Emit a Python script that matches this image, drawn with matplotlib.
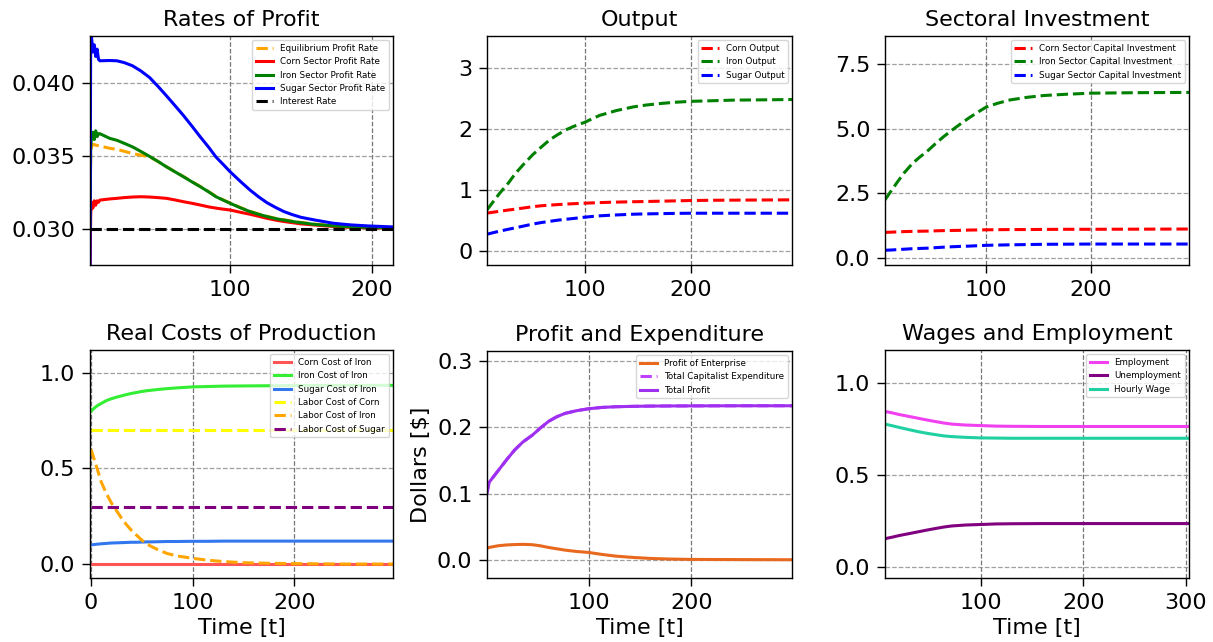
import matplotlib
matplotlib.use("Agg")
import matplotlib.pyplot as plt

# ---- Rates of Profit ----
t_rate = [1, 1.5, 2, 3, 4, 5, 6, 7, 8, 15, 20, 25, 31, 37, 43, 49, 55, 61, 67, 73, 79, 85, 90, 95,
          100, 107, 114, 120, 126, 132, 138, 144, 150, 160, 173, 185, 197, 215]
sugar_rate = [0.0270, 0.0440, 0.0432, 0.0421, 0.0426, 0.0418, 0.0423, 0.0416, 0.0415, 0.04152, 0.0415, 0.04138,
              0.04116, 0.0408, 0.04036, 0.03975, 0.0391, 0.03843, 0.03775, 0.03702, 0.03627, 0.03555, 0.0349,
              0.0344, 0.03389, 0.03325, 0.03264, 0.03218, 0.03177, 0.03145, 0.03116, 0.03095, 0.03077, 0.03058,
              0.03036, 0.03025, 0.03018, 0.03011]
corn_rate = [0.0270, 0.0310, 0.0318, 0.0314, 0.0319, 0.0316, 0.0319, 0.0318, 0.03195, 0.03203, 0.03207, 0.03212,
             0.03216, 0.03218, 0.03216, 0.03212, 0.03207, 0.03196, 0.03184, 0.03173, 0.03161, 0.03148, 0.0314,
             0.03133, 0.03127, 0.03112, 0.03098, 0.03084, 0.0307, 0.03058, 0.03048, 0.0304, 0.03032, 0.03024,
             0.03014, 0.03008, 0.03005, 0.03002]
iron_rate = [0.0300, 0.0355, 0.0362, 0.0366, 0.0361, 0.0367, 0.0363, 0.0365, 0.0365, 0.03618, 0.03605, 0.03585,
             0.0356, 0.03528, 0.03495, 0.0346, 0.03423, 0.03389, 0.03355, 0.0332, 0.03286, 0.0325, 0.03218,
             0.03195, 0.03173, 0.03143, 0.03116, 0.03098, 0.03082, 0.03068, 0.03058, 0.03048, 0.0304, 0.03028,
             0.03018, 0.03012, 0.03008, 0.03005]
eq_rate = [0.0310, 0.0350, 0.0356, 0.03577, 0.03575, 0.03572, 0.0357, 0.03568, 0.03566, 0.0355, 0.03543, 0.0353,
           0.03514, 0.03503, 0.03492, 0.0346, 0.03424, 0.0339, 0.03357, 0.03322, 0.03288, 0.03252, 0.0322,
           0.03197, 0.03175, 0.03145, 0.03118, 0.031, 0.03084, 0.0307, 0.0306, 0.0305, 0.03042, 0.0303,
           0.0302, 0.03014, 0.0301, 0.03006]
interest_rate = [0.030] * len(t_rate)

# ---- Output ----
t_out = [8, 14, 20, 28, 35, 43, 51, 59, 67, 75, 83, 91, 100, 107, 114, 122, 130, 138, 146, 158, 171, 185,
         200, 220, 240, 270, 295]
corn_out = [0.62, 0.635, 0.65, 0.67, 0.685, 0.705, 0.725, 0.74, 0.75, 0.76, 0.768, 0.775, 0.782, 0.787, 0.792,
            0.796, 0.80, 0.803, 0.806, 0.81, 0.815, 0.82, 0.826, 0.83, 0.832, 0.835, 0.837]
iron_out = [0.673, 0.81, 0.947, 1.11, 1.275, 1.43, 1.576, 1.70, 1.82, 1.91, 1.99, 2.05, 2.107, 2.165, 2.22,
            2.26, 2.30, 2.33, 2.36, 2.39, 2.414, 2.435, 2.45, 2.46, 2.47, 2.475, 2.48]
sugar_out = [0.274, 0.30, 0.325, 0.355, 0.38, 0.41, 0.44, 0.465, 0.485, 0.505, 0.52, 0.535, 0.553, 0.565,
             0.575, 0.583, 0.59, 0.596, 0.602, 0.607, 0.611, 0.615, 0.618, 0.618, 0.618, 0.618, 0.618]

# ---- Sectoral Investment ----
t_inv = [4, 10, 16, 22, 30, 37, 44, 52, 60, 68, 76, 84, 92, 100, 111, 123, 139, 155, 177, 200, 245, 293]
corn_inv = [0.99, 1.0, 1.01, 1.02, 1.03, 1.035, 1.04, 1.05, 1.06, 1.065, 1.07, 1.08, 1.085, 1.09, 1.095, 1.10,
            1.10, 1.105, 1.11, 1.11, 1.115, 1.12]
iron_inv = [2.25, 2.6, 2.95, 3.28, 3.65, 3.9, 4.12, 4.42, 4.70, 4.95, 5.19, 5.42, 5.63, 5.83, 5.98, 6.11,
            6.21, 6.28, 6.33, 6.37, 6.39, 6.40]
sugar_inv = [0.30, 0.31, 0.325, 0.34, 0.36, 0.37, 0.38, 0.40, 0.42, 0.435, 0.45, 0.46, 0.475, 0.49, 0.50,
             0.51, 0.52, 0.53, 0.535, 0.54, 0.54, 0.54]

# ---- Real Costs of Production ----
t_cost = [0, 3, 6, 10, 15, 20, 25, 30, 35, 40, 45, 50, 55, 60, 67, 75, 85, 100, 115, 130, 150, 175, 200, 250, 297]
corn_cost_iron = [0.0] * len(t_cost)
iron_cost_iron = [0.80, 0.815, 0.828, 0.84, 0.855, 0.865, 0.873, 0.88, 0.887, 0.893, 0.898, 0.903, 0.907,
                  0.91, 0.914, 0.918, 0.922, 0.927, 0.929, 0.931, 0.932, 0.933, 0.934, 0.935, 0.935]
sugar_cost_iron = [0.100, 0.102, 0.104, 0.106, 0.108, 0.110, 0.111, 0.112, 0.113, 0.114, 0.114, 0.115, 0.116,
                   0.116, 0.117, 0.118, 0.118, 0.119, 0.119, 0.12, 0.12, 0.12, 0.12, 0.12, 0.12]
labor_corn = [0.70] * len(t_cost)
labor_iron = [0.60, 0.55, 0.50, 0.43, 0.37, 0.32, 0.28, 0.24, 0.205, 0.175, 0.15, 0.125, 0.105, 0.09, 0.072,
              0.055, 0.042, 0.03, 0.02, 0.013, 0.007, 0.004, 0.002, 0.0, 0.0]
labor_sugar = [0.30] * len(t_cost)

# ---- Profit and Expenditure ----
t_prof = [1, 3, 8, 12, 20, 28, 36, 45, 53, 61, 69, 77, 88, 100, 113, 126, 143, 160, 180, 200, 250, 298]
enterprise = [0.0176, 0.019, 0.0205, 0.0216, 0.0228, 0.0234, 0.0237, 0.0232, 0.0215, 0.019, 0.017, 0.015,
              0.013, 0.0115, 0.0085, 0.006, 0.004, 0.0025, 0.0015, 0.001, 0.0007, 0.0005]
cap_expend = [0.101, 0.117, 0.127, 0.135, 0.151, 0.166, 0.178, 0.188, 0.199, 0.209, 0.216, 0.221, 0.225,
              0.228, 0.230, 0.231, 0.2316, 0.232, 0.2322, 0.2323, 0.2325, 0.2325]
total_profit = [0.101, 0.117, 0.127, 0.135, 0.151, 0.166, 0.178, 0.188, 0.199, 0.209, 0.216, 0.221, 0.225,
                0.228, 0.230, 0.231, 0.2316, 0.232, 0.2322, 0.2323, 0.2325, 0.2325]

# ---- Wages and Employment ----
t_wage = [7, 14, 20, 31, 40, 50, 57, 64, 72, 85, 100, 115, 130, 160, 200, 303]
employment = [0.846, 0.838, 0.83, 0.818, 0.808, 0.797, 0.79, 0.783, 0.777, 0.772, 0.769, 0.766, 0.765,
              0.764, 0.764, 0.764]
unemployment = [0.154, 0.162, 0.17, 0.182, 0.192, 0.203, 0.21, 0.217, 0.223, 0.228, 0.231, 0.234, 0.235,
                0.236, 0.236, 0.236]
hourly_wage = [0.777, 0.768, 0.76, 0.746, 0.735, 0.725, 0.719, 0.713, 0.709, 0.705, 0.702, 0.701, 0.70,
               0.70, 0.70, 0.70]

FS = 16
LW = 2.2
LEG = 6.3
W, H = 1213, 642

fig = plt.figure(figsize=(12.13, 6.42), dpi=100)


def make_ax(left, top, width, height):
    return fig.add_axes([left / W, 1 - (top + height) / H, width / W, height / H])


def style(ax, title):
    ax.set_title(title, fontsize=FS, pad=7)
    ax.tick_params(labelsize=FS, length=5.5, width=1.0, pad=5)
    for sp in ax.spines.values():
        sp.set_linewidth(1.0)
    ax.set_axisbelow(True)
    ax.grid(axis="x", color="#555555", linestyle="--", linewidth=0.9, alpha=0.8)
    ax.grid(axis="y", color="#888888", linestyle="--", linewidth=0.9, alpha=0.8)
    ax.legend(fontsize=LEG, loc="upper right")


# Rates of Profit
ax = make_ax(90, 36, 303, 229)
ax.plot(t_rate, eq_rate, color="orange", linestyle="--", lw=LW, label="Equilibrium Profit Rate")
ax.plot(t_rate, corn_rate, color="red", lw=LW, label="Corn Sector Profit Rate")
ax.plot(t_rate, iron_rate, color="green", lw=LW, label="Iron Sector Profit Rate")
ax.plot(t_rate, sugar_rate, color="blue", lw=LW, label="Sugar Sector Profit Rate")
ax.plot(t_rate, interest_rate, color="black", linestyle="--", lw=LW, label="Interest Rate")
ax.set_xlim(1, 215)
ax.set_ylim(0.0275, 0.0432)
ax.set_yticks([0.030, 0.035, 0.040])
ax.set_xticks([100, 200])
style(ax, "Rates of Profit")

# Output
ax = make_ax(487, 36, 305, 229)
ax.plot(t_out, corn_out, color="red", linestyle="--", lw=LW, label="Corn Output")
ax.plot(t_out, iron_out, color="green", linestyle="--", lw=LW, label="Iron Output")
ax.plot(t_out, sugar_out, color="blue", linestyle="--", lw=LW, label="Sugar Output")
ax.set_xlim(8, 295)
ax.set_ylim(-0.23, 3.52)
ax.set_yticks([0, 1, 2, 3])
ax.set_xticks([100, 200])
style(ax, "Output")

# Sectoral Investment
ax = make_ax(885, 36, 304, 229)
ax.plot(t_inv, corn_inv, color="red", linestyle="--", lw=LW, label="Corn Sector Capital Investment")
ax.plot(t_inv, iron_inv, color="green", linestyle="--", lw=LW, label="Iron Sector Capital Investment")
ax.plot(t_inv, sugar_inv, color="blue", linestyle="--", lw=LW, label="Sugar Sector Capital Investment")
ax.set_xlim(4, 293)
ax.set_ylim(-0.27, 8.58)
ax.set_yticks([0.0, 2.5, 5.0, 7.5])
ax.set_xticks([100, 200])
style(ax, "Sectoral Investment")

# Real Costs of Production
ax = make_ax(90, 350, 303, 228)
ax.plot(t_cost, corn_cost_iron, color="#ff5555", lw=LW, label="Corn Cost of Iron")
ax.plot(t_cost, iron_cost_iron, color="#33ee33", lw=LW, label="Iron Cost of Iron")
ax.plot(t_cost, sugar_cost_iron, color="#3377ee", lw=LW, label="Sugar Cost of Iron")
ax.plot(t_cost, labor_corn, color="yellow", linestyle="--", lw=LW, label="Labor Cost of Corn")
ax.plot(t_cost, labor_iron, color="orange", linestyle="--", lw=LW, label="Labor Cost of Iron")
ax.plot(t_cost, labor_sugar, color="purple", linestyle="--", lw=LW, label="Labor Cost of Sugar")
ax.set_xlim(-1, 297)
ax.set_ylim(-0.073, 1.12)
ax.set_yticks([0.0, 0.5, 1.0])
ax.set_xticks([0, 100, 200])
style(ax, "Real Costs of Production")
ax.set_xlabel("Time [t]", fontsize=FS, labelpad=4)

# Profit and Expenditure
ax = make_ax(487, 351, 305, 227)
ax.plot(t_prof, enterprise, color="#e8691e", lw=LW, label="Profit of Enterprise")
ax.plot(t_prof, cap_expend, color="#c040ff", linestyle="--", lw=LW, label="Total Capitalist Expenditure")
ax.plot(t_prof, total_profit, color="#a030f0", lw=LW, label="Total Profit")
ax.set_xlim(1, 298)
ax.set_ylim(-0.027, 0.315)
ax.set_yticks([0.0, 0.1, 0.2, 0.3])
ax.set_xticks([100, 200])
style(ax, "Profit and Expenditure")
ax.set_xlabel("Time [t]", fontsize=FS, labelpad=4)
ax.set_ylabel("Dollars [$]", fontsize=FS, labelpad=4)

# Wages and Employment
ax = make_ax(885, 350, 304, 228)
ax.plot(t_wage, employment, color="#f040f0", lw=LW, label="Employment")
ax.plot(t_wage, unemployment, color="purple", lw=LW, label="Unemployment")
ax.plot(t_wage, hourly_wage, color="#20d0a0", lw=LW, label="Hourly Wage")
ax.set_xlim(7, 303)
ax.set_ylim(-0.06, 1.18)
ax.set_yticks([0.0, 0.5, 1.0])
ax.set_xticks([100, 200, 300])
style(ax, "Wages and Employment")
ax.set_xlabel("Time [t]", fontsize=FS, labelpad=4)

fig.savefig("out.png", dpi=100)
